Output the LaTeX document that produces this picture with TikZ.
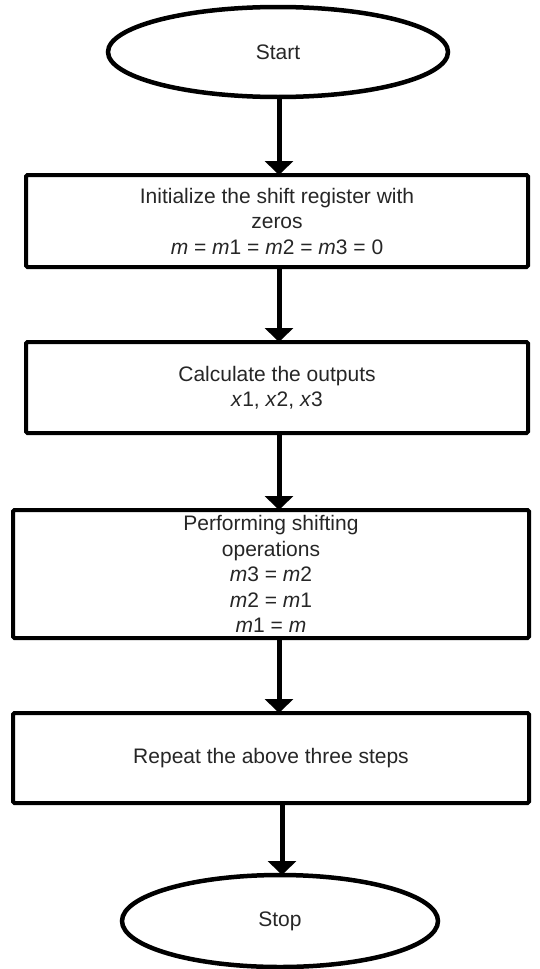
\documentclass[tikz,border=0pt]{standalone}
\usepackage{fontspec}
\setmainfont{Liberation Sans}
\usetikzlibrary{arrows.meta,shapes.geometric}
\begin{document}
\begin{tikzpicture}[x=1pt,y=-1pt,
  every node/.style={font=\fontsize{21}{25.5}\selectfont, text=black!85, align=center, outer sep=0pt, inner sep=0pt},
  procbox/.style={draw=black, line width=4pt, rounded corners=1.5pt},
  term/.style={draw=black, ellipse, line width=4.5pt},
  flow/.style={line width=5pt, -{Triangle[width=28pt,length=14pt]}}]
\useasboundingbox (0,0) rectangle (540,969);
\node[term, minimum width=340pt, minimum height=90pt] (start) at (278,52) {Start};
\node[procbox, minimum width=502pt, minimum height=92pt] (b1) at (277,221)
  {Initialize the shift register with\\zeros\\\textit{m} = \textit{m}1 = \textit{m}2 = \textit{m}3 = 0};
\node[procbox, minimum width=502pt, minimum height=91pt] (b2) at (277,387.5)
  {Calculate the outputs\\\textit{x}1, \textit{x}2, \textit{x}3};
\node[procbox, minimum width=516pt, minimum height=128pt] (b3) at (271,574)
  {Performing shifting\\operations\\\textit{m}3 = \textit{m}2\\\textit{m}2 = \textit{m}1\\\textit{m}1 = \textit{m}};
\node[procbox, minimum width=516pt, minimum height=90pt] (b4) at (271,758)
  {Repeat the above three steps};
\node[term, minimum width=316pt, minimum height=92pt] (stop) at (280,921) {Stop};
\coordinate (a1) at (279,0);
\draw[flow] (start.south -| a1) -- (b1.north -| a1);
\draw[flow] (b1.south -| a1) -- (b2.north -| a1);
\draw[flow] (b2.south -| a1) -- (b3.north -| a1);
\draw[flow] (b3.south -| a1) -- (b4.north -| a1);
\coordinate (a2) at (282,0);
\draw[flow] (b4.south -| a2) -- (stop.north -| a2);
\end{tikzpicture}
\end{document}
